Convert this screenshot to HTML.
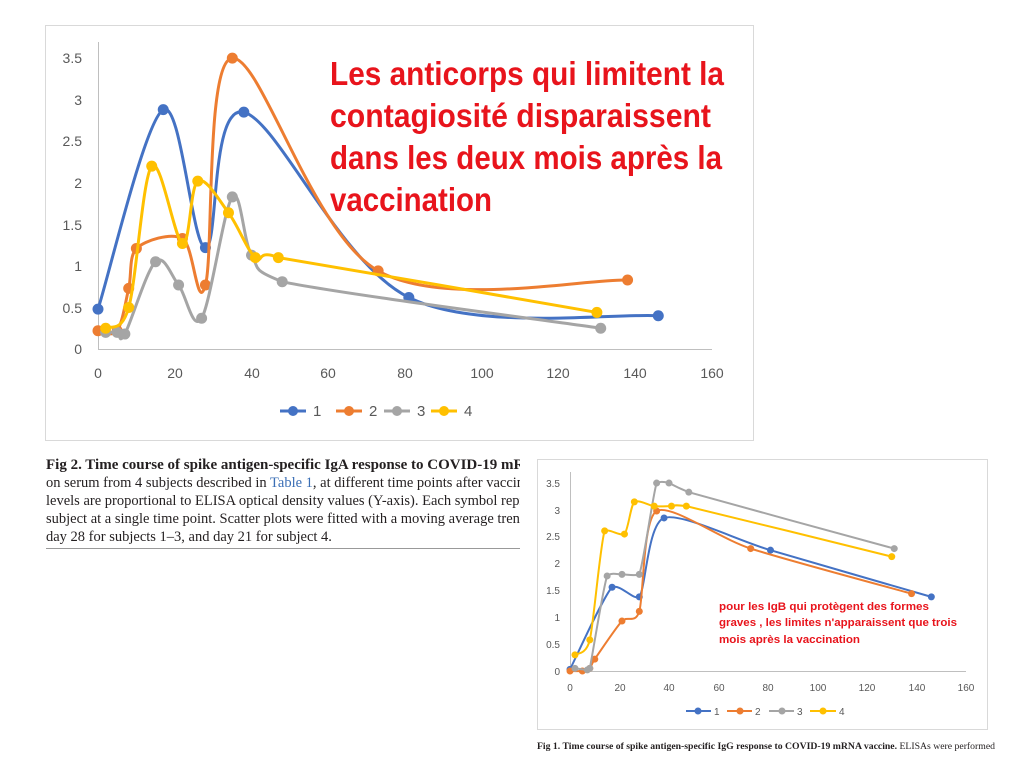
<!DOCTYPE html>
<html><head><meta charset="utf-8"><style>
html,body{margin:0;padding:0;background:#fff;width:1024px;height:776px;overflow:hidden}
svg{display:block}
</style></head><body>
<svg id="s" width="1024" height="776" xmlns="http://www.w3.org/2000/svg" font-family="Liberation Sans, sans-serif">
<rect width="1024" height="776" fill="#fff"/>
<rect x="45.5" y="25.5" width="708" height="415" fill="#fff" stroke="#d9d9d9"/>
<g fill="#595959" font-size="14" text-anchor="end">
<text x="82" y="354">0</text><text x="82" y="313">0.5</text><text x="82" y="271">1</text><text x="82" y="230">1.5</text><text x="82" y="188">2</text><text x="82" y="146">2.5</text><text x="82" y="105">3</text><text x="82" y="63">3.5</text>
</g>
<g fill="#595959" font-size="14" text-anchor="middle">
<text x="98" y="378">0</text><text x="175" y="378">20</text><text x="252" y="378">40</text><text x="328" y="378">60</text><text x="405" y="378">80</text><text x="482" y="378">100</text><text x="558" y="378">120</text><text x="635" y="378">140</text><text x="712" y="378">160</text>
</g>
<line x1="98" y1="349.5" x2="712" y2="349.5" stroke="#bfbfbf"/>
<line x1="98.5" y1="42" x2="98.5" y2="349" stroke="#bfbfbf"/>
<g id="top"></g>
<g font-size="15" fill="#595959">
<line x1="280" y1="411" x2="306" y2="411" stroke="#4472c4" stroke-width="3"/><circle cx="293" cy="411" r="5" fill="#4472c4"/><text x="313" y="416">1</text>
<line x1="336" y1="411" x2="362" y2="411" stroke="#ed7d31" stroke-width="3"/><circle cx="349" cy="411" r="5" fill="#ed7d31"/><text x="369" y="416">2</text>
<line x1="384" y1="411" x2="410" y2="411" stroke="#a5a5a5" stroke-width="3"/><circle cx="397" cy="411" r="5" fill="#a5a5a5"/><text x="417" y="416">3</text>
<line x1="431" y1="411" x2="457" y2="411" stroke="#ffc000" stroke-width="3"/><circle cx="444" cy="411" r="5" fill="#ffc000"/><text x="464" y="416">4</text>
</g>
<g fill="#e8141c" font-size="33" font-weight="bold">
<text x="330" y="85" textLength="394" lengthAdjust="spacingAndGlyphs">Les anticorps qui limitent la</text>
<text x="330" y="127" textLength="381" lengthAdjust="spacingAndGlyphs">contagiosité  disparaissent</text>
<text x="330" y="169" textLength="392" lengthAdjust="spacingAndGlyphs">dans les deux mois après la</text>
<text x="330" y="211" textLength="162" lengthAdjust="spacingAndGlyphs">vaccination</text>
</g>
<g font-family="Liberation Serif, serif" font-size="14.5" fill="#231f20">
<text x="46" y="469" font-weight="bold" font-size="15">Fig 2.  Time course of spike antigen-specific IgA response to COVID-19 mRNA vaccine.</text>
<text x="46" y="487">on serum from 4 subjects described in <tspan fill="#3a6eb5">Table 1</tspan>, at different time points after vaccination.</text>
<text x="46" y="505">levels are proportional to ELISA optical density values (Y-axis). Each symbol represents</text>
<text x="46" y="523">subject at a single time point. Scatter plots were fitted with a moving average trendline</text>
<text x="46" y="541">day 28 for subjects 1–3, and day 21 for subject 4.</text>
</g>
<line x1="46" y1="548.5" x2="520" y2="548.5" stroke="#999"/>
<rect x="520" y="455" width="504" height="321" fill="#fff"/>
<rect x="537.5" y="459.5" width="450" height="270" fill="#fff" stroke="#d9d9d9"/>
<g fill="#595959" font-size="10" text-anchor="end">
<text x="560" y="675">0</text><text x="560" y="648">0.5</text><text x="560" y="621">1</text><text x="560" y="594">1.5</text><text x="560" y="567">2</text><text x="560" y="540">2.5</text><text x="560" y="514">3</text><text x="560" y="487">3.5</text>
</g>
<g fill="#595959" font-size="10" text-anchor="middle">
<text x="570" y="691">0</text><text x="620" y="691">20</text><text x="669" y="691">40</text><text x="719" y="691">60</text><text x="768" y="691">80</text><text x="818" y="691">100</text><text x="867" y="691">120</text><text x="917" y="691">140</text><text x="966" y="691">160</text>
</g>
<line x1="570" y1="671.5" x2="966" y2="671.5" stroke="#bfbfbf"/>
<line x1="570.5" y1="472" x2="570.5" y2="671" stroke="#bfbfbf"/>
<g id="bot"></g>
<g font-size="10" fill="#595959">
<line x1="686" y1="711" x2="711" y2="711" stroke="#4472c4" stroke-width="2"/><circle cx="698" cy="711" r="3.5" fill="#4472c4"/><text x="714" y="715">1</text>
<line x1="727" y1="711" x2="752" y2="711" stroke="#ed7d31" stroke-width="2"/><circle cx="740" cy="711" r="3.5" fill="#ed7d31"/><text x="755" y="715">2</text>
<line x1="769" y1="711" x2="794" y2="711" stroke="#a5a5a5" stroke-width="2"/><circle cx="782" cy="711" r="3.5" fill="#a5a5a5"/><text x="797" y="715">3</text>
<line x1="810" y1="711" x2="836" y2="711" stroke="#ffc000" stroke-width="2"/><circle cx="823" cy="711" r="3.5" fill="#ffc000"/><text x="839" y="715">4</text>
</g>
<g fill="#e8141c" font-size="11" font-weight="bold">
<text x="719" y="610" textLength="210" lengthAdjust="spacingAndGlyphs">pour les IgB qui protègent des formes</text>
<text x="719" y="626" textLength="238" lengthAdjust="spacingAndGlyphs">graves , les limites n'apparaissent que trois</text>
<text x="719" y="643" textLength="141" lengthAdjust="spacingAndGlyphs">mois après la vaccination</text>
</g>
<text x="537" y="749" font-family="Liberation Serif, serif" font-size="9.5" fill="#231f20" textLength="458" lengthAdjust="spacingAndGlyphs"><tspan font-weight="bold">Fig 1.  Time course of spike antigen-specific IgG response to COVID-19 mRNA vaccine.</tspan> ELISAs were performed</text>
</svg>
<script>
var C=['#4472c4','#ed7d31','#a5a5a5','#ffc000'];
var T=[[[0,0.48],[17,2.88],[28,1.22],[38,2.85],[81,0.62],[146,0.4]],
[[0,0.22],[5,0.22],[8,0.73],[10,1.21],[22,1.33],[28,0.77],[35,3.5],[73,0.94],[138,0.83]],
[[2,0.2],[5,0.2],[7,0.18],[15,1.05],[21,0.77],[27,0.37],[35,1.83],[40,1.13],[48,0.81],[131,0.25]],
[[2,0.25],[8,0.5],[14,2.2],[22,1.27],[26,2.02],[34,1.64],[41,1.1],[47,1.1],[130,0.44]]];
var B=[[[0,0.03],[17,1.56],[28,1.38],[38,2.85],[81,2.25],[146,1.38]],
[[0,0],[5,0],[8,0.05],[10,0.22],[21,0.93],[28,1.11],[35,2.98],[73,2.28],[138,1.44]],
[[2,0.05],[7,0.02],[8,0.05],[15,1.77],[21,1.8],[28,1.8],[35,3.5],[40,3.5],[48,3.33],[131,2.28]],
[[2,0.3],[8,0.58],[14,2.61],[22,2.55],[26,3.15],[34,3.07],[41,3.07],[47,3.07],[130,2.13]]];
function cl(v,a,b){var lo=Math.min(a,b)-Math.abs(a-b)*0.15-2,hi=Math.max(a,b)+Math.abs(a-b)*0.15+2;return Math.max(lo,Math.min(hi,v));}
function path(p,t,clamp){var d='M'+p[0][0]+','+p[0][1];for(var i=0;i<p.length-1;i++){var p0=p[i-1]||p[i],p1=p[i],p2=p[i+1],p3=p[i+2]||p2;
var ax=p1[0]+(p2[0]-p0[0])*t,ay=p1[1]+(p2[1]-p0[1])*t,bx=p2[0]-(p3[0]-p1[0])*t,by=p2[1]-(p3[1]-p1[1])*t;
ax=Math.min(ax,p2[0]);bx=Math.max(bx,p1[0]);
if(clamp){ay=cl(ay,p1[1],p2[1]);by=cl(by,p1[1],p2[1]);}
d+=' C'+ax+','+ay+' '+bx+','+by+' '+p2[0]+','+p2[1];}return d;}
function draw(id,S,x0,xs,y0,ys,w,r,t,clamp){var g=document.getElementById(id),h='';S.forEach(function(s,k){var p=s.map(function(q){return [x0+q[0]*xs,y0-q[1]*ys]});h+='<path d="'+path(p,t,clamp)+'" fill="none" stroke="'+C[k]+'" stroke-width="'+w+'"/>';p.forEach(function(q){h+='<circle cx="'+q[0]+'" cy="'+q[1]+'" r="'+r+'" fill="'+C[k]+'"/>'});});g.innerHTML=h;}
draw('top',T,98,3.8375,349,83.1,3,5.5,1/6,false);
draw('bot',B,570,2.475,671,53.7,2,3.5,1/8,true);
</script>
</body></html>
